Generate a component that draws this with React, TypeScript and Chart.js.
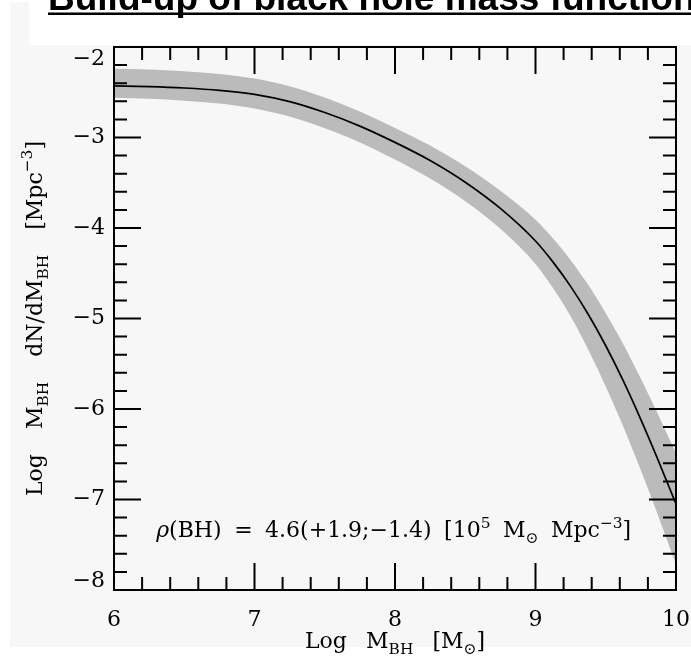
import React, { useEffect, useRef } from 'react';
import { Chart, registerables } from 'chart.js';

Chart.register(...registerables);

const W = 691;
const H = 669;

// ---- data ----
const logMass = [6, 6.25, 6.5, 6.75, 7, 7.25, 7.5, 7.75, 8, 8.25, 8.5, 8.75, 9, 9.125, 9.25, 9.375, 9.5, 9.625, 9.75, 9.875, 10];
const meanLogPhi = [-2.43, -2.438, -2.453, -2.479, -2.524, -2.604, -2.724, -2.874, -3.054, -3.254, -3.494, -3.784, -4.144, -4.377, -4.645, -4.953, -5.301, -5.69, -6.117, -6.573, -7.05];
const upperLogPhi = [-2.24, -2.248, -2.268, -2.299, -2.349, -2.434, -2.559, -2.714, -2.894, -3.089, -3.319, -3.589, -3.909, -4.117, -4.355, -4.628, -4.941, -5.285, -5.667, -6.068, -6.49];
const lowerLogPhi = [-2.56, -2.573, -2.593, -2.624, -2.679, -2.769, -2.899, -3.054, -3.244, -3.454, -3.704, -4.009, -4.399, -4.667, -4.975, -5.343, -5.751, -6.195, -6.677, -7.188, -7.72];

const xTickValues = [6, 7, 8, 9, 10];
const yTickValues = [-8, -7, -6, -5, -4, -3, -2];

const titleText = 'Build-up of black hole mass function';

type Seg = { t: string; k?: 'sub' | 'sup'; it?: boolean };

const xTitleSegs: Seg[] = [{ t: 'Log M' }, { t: 'BH', k: 'sub' }, { t: ' [M' }, { t: '\u2299', k: 'sub' }, { t: ']' }];
const yTitleSegs: Seg[] = [
  { t: 'Log M' }, { t: 'BH', k: 'sub' }, { t: ' dN/dM' }, { t: 'BH', k: 'sub' },
  { t: ' [Mpc' }, { t: '\u22123', k: 'sup' }, { t: ']' },
];
const noteSegs: Seg[] = [
  { t: '\u03c1', it: true }, { t: '(BH) = 4.6(+1.9;\u22121.4) [10' }, { t: '5', k: 'sup' },
  { t: ' M' }, { t: '\u2299', k: 'sub' }, { t: ' Mpc' }, { t: '\u22123', k: 'sup' }, { t: ']' },
];

const SERIF = '"DejaVu Serif", "Liberation Serif", serif';
const BG = '#f7f7f7';
const BAND = '#bbbbbb';
const FS = 22;

function segFont(s: Seg, size: number) {
  const sz = s.k ? size * 0.7 : size;
  return `${s.it ? 'italic ' : ''}${sz}px ${SERIF}`;
}

function measureRich(ctx: CanvasRenderingContext2D, segs: Seg[], size: number) {
  let w = 0;
  for (const s of segs) {
    ctx.font = segFont(s, size);
    w += ctx.measureText(s.t).width;
  }
  return w;
}

function drawRich(
  ctx: CanvasRenderingContext2D,
  segs: Seg[],
  x: number,
  y: number,
  size: number,
  align: 'left' | 'center',
  target?: number
) {
  const natural = measureRich(ctx, segs, size);
  let spaces = 0;
  for (const s of segs) spaces += (s.t.match(/ /g) || []).length;
  const extra = target && spaces ? (target - natural) / spaces : 0;
  const total = natural + extra * spaces;
  let cx = align === 'center' ? x - total / 2 : x;
  ctx.textAlign = 'left';
  ctx.textBaseline = 'alphabetic';
  for (const s of segs) {
    ctx.font = segFont(s, size);
    const dy = s.k === 'sub' ? size * 0.28 : s.k === 'sup' ? -size * 0.42 : 0;
    const parts = s.t.split(' ');
    const sw = ctx.measureText(' ').width;
    parts.forEach((p, i) => {
      if (i > 0) cx += sw + extra;
      if (p) {
        ctx.fillText(p, cx, y + dy);
        cx += ctx.measureText(p).width;
      }
    });
  }
}

const decorPlugin = {
  id: 'decor',
  beforeDraw(chart: any) {
    const ctx: CanvasRenderingContext2D = chart.ctx;
    ctx.save();
    ctx.fillStyle = '#ffffff';
    ctx.fillRect(0, 0, W, H);
    ctx.fillStyle = BG;
    ctx.fillRect(10, 2, W - 10, 645);
    ctx.fillStyle = '#ffffff';
    ctx.fillRect(29, 0, W - 29, 45);
    ctx.fillStyle = '#000';
    ctx.font = 'bold 37px "Liberation Sans", Arial, sans-serif';
    ctx.textAlign = 'left';
    ctx.textBaseline = 'alphabetic';
    ctx.fillText(titleText, 48, 10);
    const tw = ctx.measureText(titleText).width;
    ctx.fillRect(48, 12.5, tw, 2.5);
    ctx.restore();
  },
  afterDatasetsDraw(chart: any) {
    const ctx: CanvasRenderingContext2D = chart.ctx;
    const { left, right, top, bottom } = chart.chartArea;
    const xs = chart.scales.x;
    const ys = chart.scales.y;
    ctx.save();
    ctx.strokeStyle = '#000';
    ctx.lineWidth = 2;
    ctx.strokeRect(left, top, right - left, bottom - top);
    ctx.beginPath();
    for (let k = 1; k < 20; k++) {
      const v = 6 + k * 0.2;
      const px = xs.getPixelForValue(v);
      const len = k % 5 === 0 ? 27 : 13;
      ctx.moveTo(px, bottom);
      ctx.lineTo(px, bottom - len);
      ctx.moveTo(px, top);
      ctx.lineTo(px, top + len);
    }
    for (let k = 1; k < 30; k++) {
      const v = -8 + k * 0.2;
      const py = ys.getPixelForValue(v);
      const len = k % 5 === 0 ? 27 : 13;
      ctx.moveTo(left, py);
      ctx.lineTo(left + len, py);
      ctx.moveTo(right, py);
      ctx.lineTo(right - len, py);
    }
    ctx.stroke();

    ctx.fillStyle = '#000';
    // x axis title
    drawRich(ctx, xTitleSegs, (left + right) / 2, 648, FS, 'center', 180);
    // y axis title (rotated)
    ctx.save();
    ctx.translate(41.5, (top + bottom) / 2);
    ctx.rotate(-Math.PI / 2);
    drawRich(ctx, yTitleSegs, 0, 0, FS, 'center', 355);
    ctx.restore();
    // annotation
    drawRich(ctx, noteSegs, xs.getPixelForValue(6.3), ys.getPixelForValue(-7.415), FS, 'left', 475);
    ctx.restore();
  },
};

const fmt = (v: number) => (v < 0 ? '\u2212' + Math.abs(v) : String(v));

export default function App() {
  const ref = useRef<HTMLCanvasElement>(null);
  useEffect(() => {
    const canvas = ref.current;
    if (!canvas) return;
    const pts = (arr: number[]) => logMass.map((x, i) => ({ x, y: arr[i] }));
    const chart = new Chart(canvas, {
      type: 'line',
      data: {
        datasets: [
          {
            label: 'upper',
            data: pts(upperLogPhi),
            borderWidth: 0,
            borderColor: BAND,
            backgroundColor: BAND,
            pointRadius: 0,
            fill: '+1',
            order: 2,
            cubicInterpolationMode: 'monotone',
          },
          {
            label: 'lower',
            data: pts(lowerLogPhi),
            borderWidth: 0,
            borderColor: BAND,
            pointRadius: 0,
            fill: false,
            order: 3,
            cubicInterpolationMode: 'monotone',
          },
          {
            label: 'mean',
            data: pts(meanLogPhi),
            borderWidth: 1.7,
            borderColor: '#000',
            pointRadius: 0,
            fill: false,
            order: 0,
            cubicInterpolationMode: 'monotone',
          },
        ],
      } as any,
      options: {
        responsive: false,
        devicePixelRatio: 1,
        animation: false,
        layout: { padding: { left: 0, top: 47, right: 15, bottom: 0 } },
        plugins: { legend: { display: false }, tooltip: { enabled: false }, title: { display: false } },
        scales: {
          x: {
            type: 'linear',
            min: 6,
            max: 10,
            grid: { display: false, drawTicks: false },
            border: { display: false },
            afterBuildTicks: (axis: any) => {
              axis.ticks = xTickValues.map((v) => ({ value: v }));
            },
            afterFit: (axis: any) => {
              axis.height = 79;
              axis.paddingLeft = 0;
              axis.paddingRight = 0;
            },
            ticks: {
              padding: 17,
              color: '#000',
              font: { family: SERIF, size: FS },
              maxRotation: 0,
              callback: (v: any) => fmt(Number(v)),
            },
          },
          y: {
            type: 'linear',
            min: -8,
            max: -2,
            grid: { display: false, drawTicks: false },
            border: { display: false },
            afterBuildTicks: (axis: any) => {
              axis.ticks = yTickValues.map((v) => ({ value: v }));
            },
            afterFit: (axis: any) => {
              axis.width = 114;
            },
            ticks: {
              padding: 9,
              color: '#000',
              font: (c: any) => {
                const v = c.tick ? c.tick.value : 0;
                return { family: SERIF, size: FS, lineHeight: v === -2 ? 1.16 : v === -8 ? 0.82 : 1.2 };
              },
              callback: (v: any) => {
                const n = Number(v);
                const s = fmt(n);
                if (n === -2) return ['', s];
                if (n === -8) return [s, ''];
                return s;
              },
            },
          },
        },
      } as any,
      plugins: [decorPlugin],
    });
    return () => chart.destroy();
  }, []);
  return (
    <div style={{ position: 'fixed', left: 0, top: 0, width: W, height: H }}>
      <canvas ref={ref} width={W} height={H} style={{ width: W, height: H, display: 'block' }} />
    </div>
  );
}
